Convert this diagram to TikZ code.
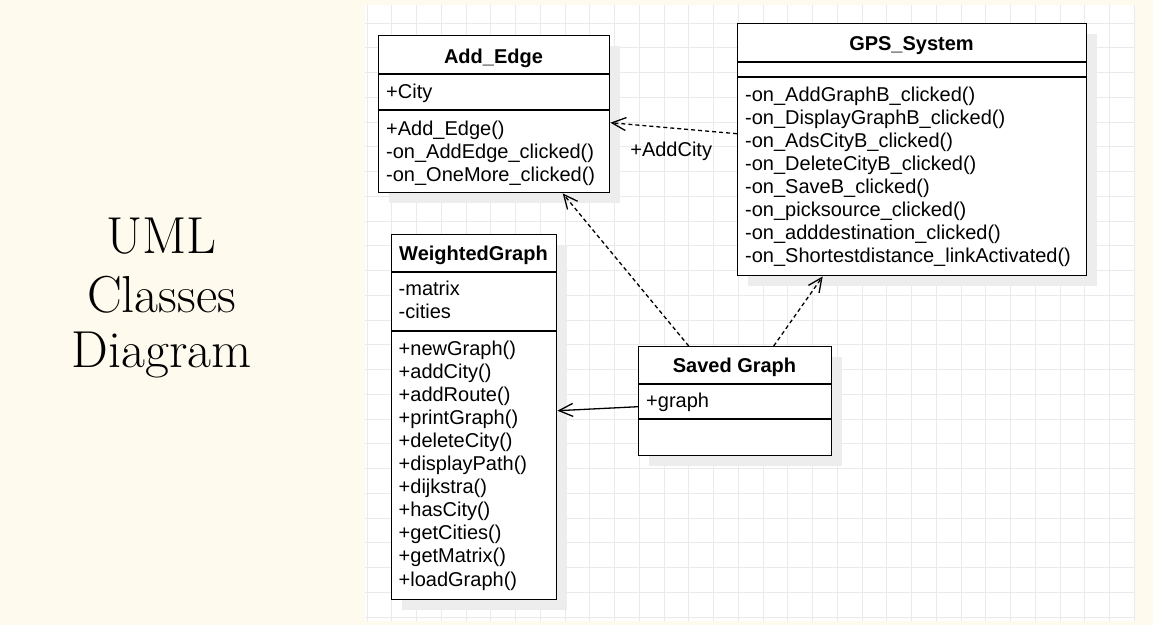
\documentclass[tikz,border=0pt]{standalone}
\usepackage{fontspec}
\setsansfont{Liberation Sans}
\usepackage{tikz}
\usetikzlibrary{arrows.meta,shadows}

\definecolor{cream}{HTML}{FFFAEE}
\definecolor{gridgrey}{HTML}{EAEAEA}

\tikzset{
  classbox/.style={draw, line width=1.4pt, fill=white, inner sep=0pt, anchor=north west,
    drop shadow={shadow xshift=10pt, shadow yshift=-10pt, fill=black!7, opacity=1}},
  classname/.style={font=\sffamily\bfseries\fontsize{20}{23.1}\selectfont, inner sep=0pt, anchor=base},
  member/.style={font=\sffamily\fontsize{20}{23.1}\selectfont, inner sep=0pt, anchor=base west},
  divider/.style={line width=1.4pt},
  gridline/.style={gridgrey, line width=1pt},
  bigtext/.style={font=\fontsize{52}{57}\selectfont, inner sep=0pt, anchor=base},
  dep/.style={line width=1.3pt, dash pattern=on 4pt off 3pt, -{Straight Barb[length=14pt,width=13pt]}},
  assoc/.style={line width=1.3pt, -{Straight Barb[length=14pt,width=13pt]}}
}

\begin{document}
\begin{tikzpicture}[x=1pt,y=-1pt]
    \fill[cream] (0,0) rectangle (1153,625);
    \useasboundingbox (0,0) rectangle (1153,625);
    \fill[white] (365,5) rectangle (1134,621);
    \foreach \gx in {0,...,31} \draw[gridline] ({367+24.75*\gx},5) -- ++(0,616);
    \foreach \gy in {0,...,24} \draw[gridline] (365,{23+24.75*\gy}) -- ++(769,0);

    \node[bigtext] (uml) at (161.5,253) {UML};
    \node[bigtext] (classes) at (161.5,312) {Classes};
    \node[bigtext] (diagram) at (161.5,367) {Diagram};

    \node[classbox, minimum width=231pt, minimum height=157pt] (addedge) at (378,35) {};
    \draw[divider] ([yshift=-39pt]addedge.north west) -- ([yshift=-39pt]addedge.north east);
    \draw[divider] ([yshift=-75pt]addedge.north west) -- ([yshift=-75pt]addedge.north east);
    \node[classname] (addedgename) at (493.5,63) {Add\_Edge};
    \node[member] (addedgeattr) at (386,98.5) {+City};
    \foreach \m [count=\i from 0] in {+Add\_Edge(), -on\_AddEdge\_clicked(), -on\_OneMore\_clicked()}
      \node[member] (addedgeop\i) at (386,{135+23.1*\i}) {\m};

    \node[classbox, minimum width=349pt, minimum height=252pt] (gps) at (737,23) {};
    \draw[divider] ([yshift=-39pt]gps.north west) -- ([yshift=-39pt]gps.north east);
    \draw[divider] ([yshift=-54pt]gps.north west) -- ([yshift=-54pt]gps.north east);
    \node[classname] (gpsname) at (911.5,50) {GPS\_System};
    \foreach \m [count=\i from 0] in {-on\_AddGraphB\_clicked(), -on\_DisplayGraphB\_clicked(),
        -on\_AdsCityB\_clicked(), -on\_DeleteCityB\_clicked(), -on\_SaveB\_clicked(),
        -on\_picksource\_clicked(), -on\_adddestination\_clicked(), -on\_Shortestdistance\_linkActivated()}
      \node[member] (gpsop\i) at (745,{101+23.1*\i}) {\m};

    \node[classbox, minimum width=165pt, minimum height=365pt] (weighted) at (391,234) {};
    \draw[divider] ([yshift=-38pt]weighted.north west) -- ([yshift=-38pt]weighted.north east);
    \draw[divider] ([yshift=-97pt]weighted.north west) -- ([yshift=-97pt]weighted.north east);
    \node[classname] (weightedname) at (473.5,260) {WeightedGraph};
    \node[member] (weightedattr0) at (398.5,295) {-matrix};
    \node[member] (weightedattr1) at (398.5,318) {-cities};
    \foreach \m [count=\i from 0] in {+newGraph(), +addCity(), +addRoute(), +printGraph(), +deleteCity(),
        +displayPath(), +dijkstra(), +hasCity(), +getCities(), +getMatrix(), +loadGraph()}
      \node[member] (weightedop\i) at (398.5,{355+23.1*\i}) {\m};

    \node[classbox, minimum width=193pt, minimum height=109pt] (saved) at (638,346) {};
    \draw[divider] ([yshift=-38pt]saved.north west) -- ([yshift=-38pt]saved.north east);
    \draw[divider] ([yshift=-73pt]saved.north west) -- ([yshift=-73pt]saved.north east);
    \node[classname] (savedname) at (734.5,372) {Saved Graph};
    \node[member] (savedattr) at (646,407) {+graph};

    \draw[dep] ([yshift=16pt]gps.west) -- ([yshift=-8.5pt]addedge.east)
      node[midway, below=13pt, xshift=-2.5pt, font=\sffamily\fontsize{20}{23.1}\selectfont, inner sep=0pt] (addcity) {+AddCity};
    \draw[dep] ([xshift=-46.5pt]saved.north) -- ([xshift=68.5pt]addedge.south);
    \draw[dep] ([xshift=38.5pt]saved.north) -- ([xshift=-89.5pt]gps.south);
    \draw[assoc] ([yshift=-5.5pt]saved.west) -- ([yshift=6.5pt]weighted.east);
\end{tikzpicture}
\end{document}
